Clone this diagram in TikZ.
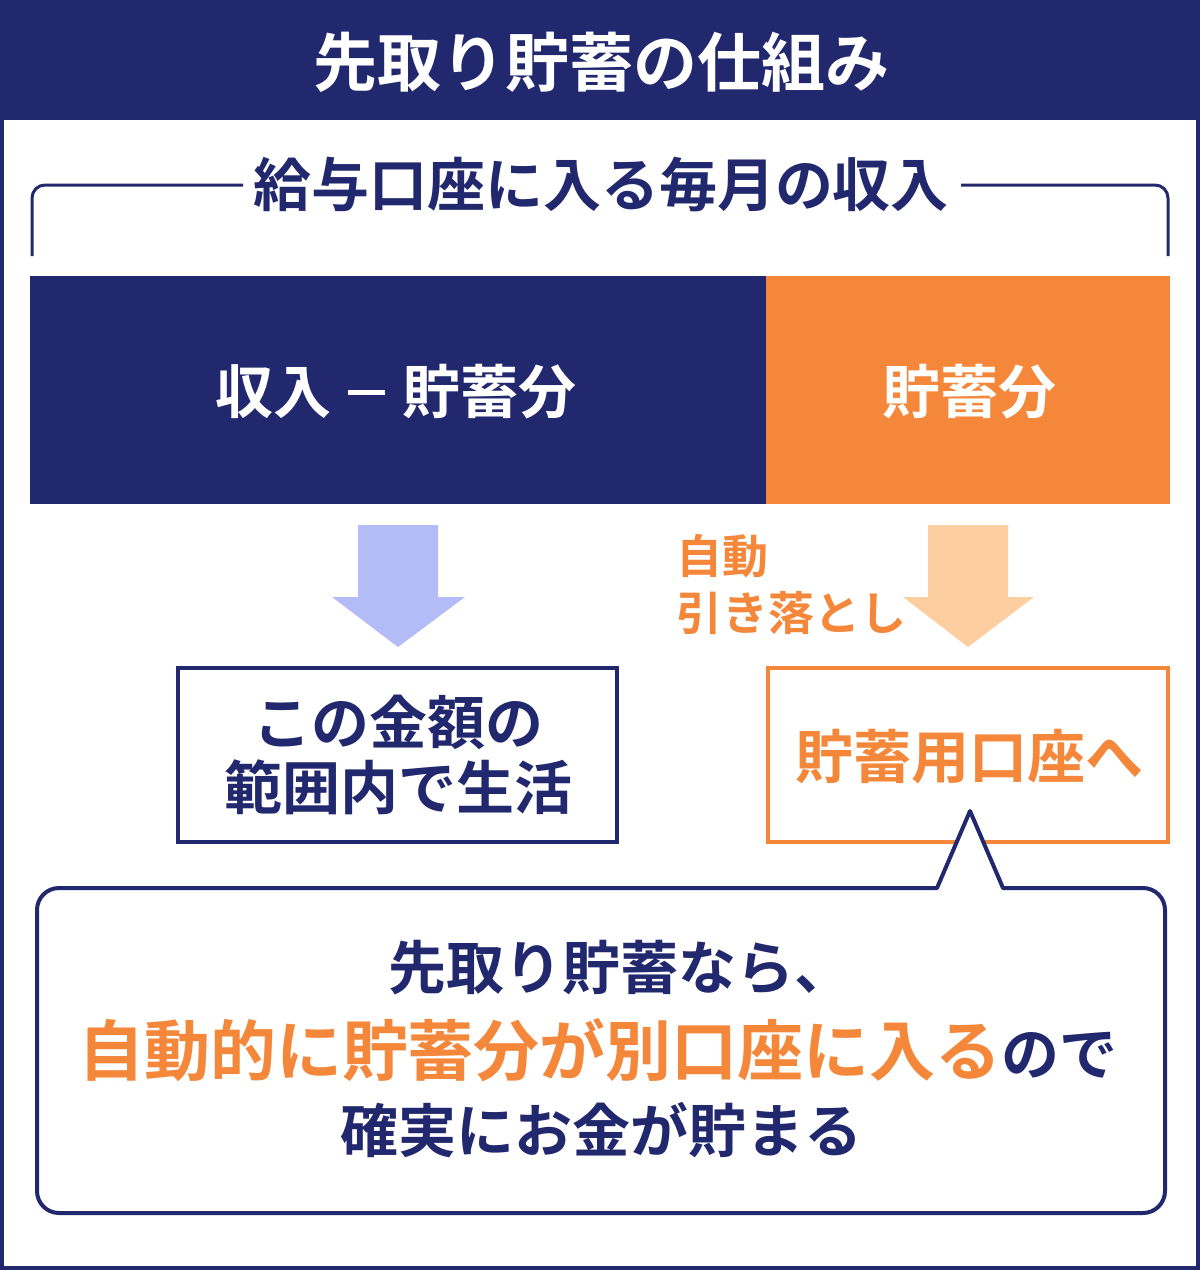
\documentclass[tikz,border=0pt]{standalone}
\usepackage{fontspec}
\setmainfont{Noto Sans CJK JP}[BoldFont={Noto Sans CJK JP Bold}]
\definecolor{navy}{HTML}{22286E}
\definecolor{orng}{HTML}{F4873A}
\definecolor{lblue}{HTML}{B4BCF7}
\definecolor{peach}{HTML}{FDCFA0}
\tikzset{
  txt/.style={inner sep=0pt, align=center, font=\bfseries},
  frameline/.style={line width=4pt},
}
\newcommand{\fs}[2]{\fontsize{#1pt}{#2pt}\selectfont}
\begin{document}
\begin{tikzpicture}[x=1pt,y=-1pt]
\useasboundingbox (0,0) rectangle (1200,1270);
\fill[white] (0,0) rectangle (1200,1270);
% outer frame and header
\draw[navy, line width=4pt] (2,2) rectangle (1198,1268);
\fill[navy] (0,0) rectangle (1200,120);
\node[txt, text=white, font=\bfseries\fs{64}{70}] (title) at (601,62) {先取り貯蓄の仕組み};
% bracket
\node[txt, text=navy, font=\bfseries\fs{58}{64}] (sub) at (601,185) {給与口座に入る毎月の収入};
\coordinate (bl) at (243,185);
\coordinate (br) at (961,185);
\draw[navy, line width=3pt, rounded corners=13pt] (bl) -- (32,185) -- (32,256);
\draw[navy, line width=3pt, rounded corners=13pt] (br) -- (1168,185) -- (1168,256);
% bars
\fill[navy] (30,276) rectangle (766,504);
\fill[orng] (766,276) rectangle (1170,504);
\node[txt, text=white, font=\bfseries\fs{58}{64}] (inc) at (396,392) {収入\hspace{16pt}\rule[18.5pt]{37pt}{5pt}\hspace{18pt}貯蓄分};
\node[txt, text=white, font=\bfseries\fs{58}{64}] (sav) at (969,392) {貯蓄分};
% arrows
\fill[lblue] (358,525) -- (438,525) -- (438,597) -- (465,597) -- (398,647) -- (332,597) -- (358,597) -- cycle;
\fill[peach] (928,525) -- (1008,525) -- (1008,597) -- (1034,597) -- (968,647) -- (903,597) -- (928,597) -- cycle;
\node[inner sep=0pt, align=left, anchor=west, text=orng, font=\bfseries\fs{46}{57}] (auto) at (676,584) {自動\\引き落とし};
% boxes
\draw[navy, frameline] (178,668) rectangle (617,842);
\node[txt, text=navy, font=\bfseries\fs{58}{65}] (live) at (398,755) {この金額の\\範囲内で生活};
\draw[orng, frameline] (768,668) rectangle (1168,842);
\node[txt, text=orng, font=\bfseries\fs{58}{64}] (acct) at (969,757) {貯蓄用口座へ};
% callout
\draw[navy, frameline, fill=white, line join=round]
  (937,888) [rounded corners=22pt] -- (37,888) -- (37,1213) -- (1165,1213) -- (1165,888) [sharp corners] -- (1003,888) -- (970,811) -- cycle;
\node[txt, text=navy, font=\bfseries\fs{58}{64}] (l1) at (620,968) {先取り貯蓄なら、};
\node[txt, text=navy, font=\bfseries\fs{58}{64}] (l2) at (598,1050) {\textcolor{orng}{\fs{66}{70}自動的に貯蓄分が別口座に入る}ので};
\node[txt, text=navy, font=\bfseries\fs{58}{64}] (l3) at (601,1130) {確実にお金が貯まる};
\end{tikzpicture}
\end{document}
